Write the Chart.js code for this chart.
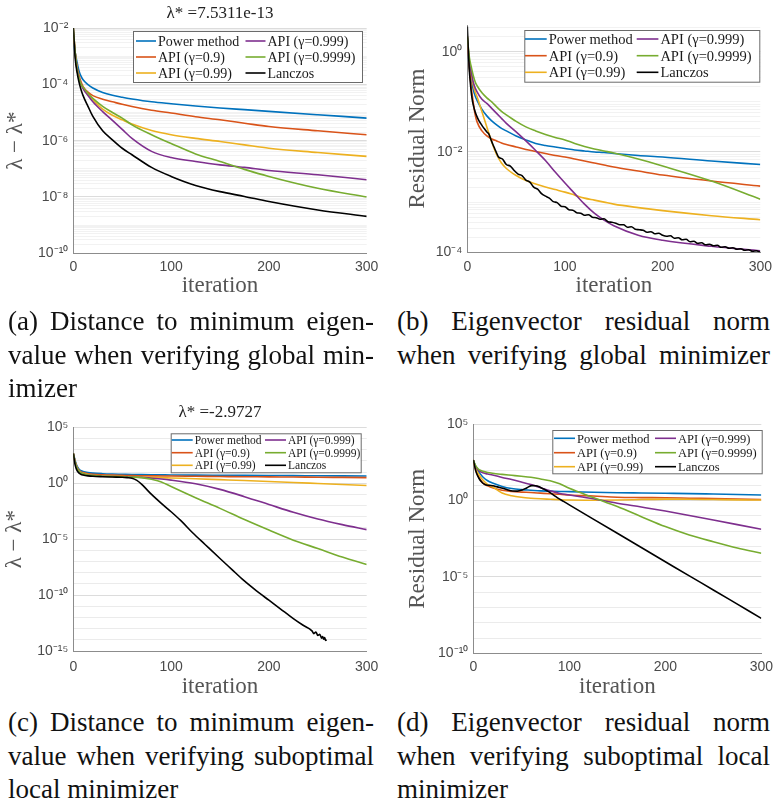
<!DOCTYPE html>
<html>
<head>
<meta charset="utf-8">
<script src="https://cdn.jsdelivr.net/npm/chart.js@4.4.1/dist/chart.umd.min.js"></script>
<style>
  html, body { margin: 0; padding: 0; background: #fff; }
  #page { position: relative; width: 778px; height: 806px; overflow: hidden; background: #fff; }
  .panel { position: absolute; }
  .cap { position: absolute; font-family: "Liberation Serif", "Times New Roman", serif; font-size: 27px; line-height: 33.5px; color: #111; }
  .cap .j { text-align: justify; text-align-last: justify; }
</style>
</head>
<body>
<div id="page">
  <canvas id="chartA" class="panel" width="390" height="300" style="left:0px;top:0px"></canvas>
  <canvas id="chartB" class="panel" width="388" height="300" style="left:390px;top:0px"></canvas>
  <canvas id="chartC" class="panel" width="390" height="310" style="left:0px;top:395px"></canvas>
  <canvas id="chartD" class="panel" width="388" height="310" style="left:390px;top:395px"></canvas>

  <div class="cap" style="left:8px;top:305px;width:366px">
    <div class="j">(a) Distance to minimum eigen-</div>
    <div class="j">value when verifying global min-</div>
    <div>imizer</div>
  </div>
  <div class="cap" style="left:397px;top:305px;width:373px">
    <div class="j">(b) Eigenvector residual norm</div>
    <div class="j">when verifying global minimizer</div>
  </div>
  <div class="cap" style="left:8px;top:706px;width:366px">
    <div class="j">(c) Distance to minimum eigen-</div>
    <div class="j">value when verifying suboptimal</div>
    <div>local minimizer</div>
  </div>
  <div class="cap" style="left:397px;top:706px;width:373px">
    <div class="j">(d) Eigenvector residual norm</div>
    <div class="j">when verifying suboptimal local</div>
    <div>minimizer</div>
  </div>
</div>

<script>

// ============================
// DATA (values are log10 of what is plotted)
// ============================

const seriesLabels = ['Power method', 'API (γ=0.9)', 'API (γ=0.99)', 'API (γ=0.999)', 'API (γ=0.9999)', 'Lanczos'];
const seriesColors = ['#0072BD', '#D95319', '#EDB120', '#7E2F8E', '#77AC30', '#000000'];

// (a) distance to min eigenvalue, global minimizer
const itA = [0, 2, 4, 6, 8, 10, 15, 20, 30, 40, 50, 60, 80, 100, 125, 150, 175, 200, 250, 300];
const aPower    = [-2.53, -2.89, -3.24, -3.54, -3.72, -3.84, -4.01, -4.13, -4.29, -4.39, -4.46, -4.52, -4.62, -4.69, -4.77, -4.84, -4.90, -4.96, -5.08, -5.20];
const aApi9     = [-2.2, -2.9, -3.4, -3.7, -3.92, -4.08, -4.28, -4.40, -4.53, -4.62, -4.71, -4.79, -4.92, -5.02, -5.15, -5.26, -5.38, -5.50, -5.65, -5.79];
const aApi99    = [-2.0, -2.9, -3.5, -3.8, -4.0, -4.13, -4.37, -4.55, -4.88, -5.10, -5.26, -5.41, -5.64, -5.79, -5.92, -6.03, -6.15, -6.27, -6.42, -6.56];
const aApi999   = [-2.0, -2.9, -3.5, -3.8, -4.0, -4.15, -4.40, -4.62, -4.97, -5.28, -5.60, -5.92, -6.38, -6.60, -6.74, -6.86, -6.95, -7.06, -7.21, -7.39];
const aApi9999  = [-2.0, -2.9, -3.5, -3.8, -4.0, -4.10, -4.32, -4.50, -4.78, -5.0, -5.20, -5.44, -5.79, -6.10, -6.47, -6.74, -7.02, -7.27, -7.69, -8.0];
const aLanczos  = [-2.0, -3.1, -3.6, -3.95, -4.2, -4.4, -4.78, -5.14, -5.65, -5.97, -6.27, -6.50, -6.95, -7.27, -7.59, -7.81, -7.98, -8.16, -8.46, -8.69];
const aTickExp = [-10, -8, -6, -4, -2];

// (b) eigenvector residual norm, global minimizer
const itB = [0, 2, 4, 6, 8, 10, 15, 20, 25, 30, 35, 40, 50, 60, 70, 80, 90, 100, 110, 120, 130, 140, 150, 175, 200, 250, 300];
const bPower    = [0.15, -0.3, -0.55, -0.75, -0.88, -0.97, -1.15, -1.28, -1.38, -1.46, -1.53, -1.58, -1.68, -1.76, -1.83, -1.87, -1.9, -1.93, -1.96, -1.98, -2.0, -2.01, -2.03, -2.07, -2.1, -2.18, -2.25];
const bApi9     = [0.2, -0.3, -0.7, -1.0, -1.25, -1.4, -1.58, -1.68, -1.74, -1.78, -1.82, -1.85, -1.9, -1.95, -1.99, -2.03, -2.07, -2.1, -2.14, -2.18, -2.22, -2.26, -2.3, -2.38, -2.46, -2.58, -2.68];
const bApi99    = [0.3, -0.2, -0.45, -0.65, -0.8, -0.9, -1.2, -1.5, -1.8, -2.05, -2.22, -2.33, -2.47, -2.57, -2.64, -2.7, -2.75, -2.8, -2.86, -2.92, -2.96, -3.0, -3.04, -3.11, -3.17, -3.27, -3.35];
const bApi999   = [0.3, -0.2, -0.4, -0.6, -0.72, -0.8, -0.95, -1.03, -1.13, -1.23, -1.33, -1.43, -1.6, -1.78, -1.97, -2.17, -2.4, -2.62, -2.83, -3.04, -3.22, -3.36, -3.47, -3.66, -3.76, -3.88, -3.97];
const bApi9999  = [0.3, -0.1, -0.3, -0.47, -0.6, -0.68, -0.82, -0.92, -1.0, -1.1, -1.19, -1.26, -1.39, -1.5, -1.58, -1.65, -1.71, -1.76, -1.83, -1.89, -1.94, -1.98, -2.02, -2.14, -2.28, -2.58, -2.94];
const itBL = [0, 1, 2, 3, 4, 5, 6, 8, 10, 12, 14, 16, 18, 20, 22, 24, 26, 28, 30,
  32, 36, 40, 44, 48, 52, 56, 60, 64, 68, 72, 76, 80, 84, 88, 92, 96, 100, 104, 108, 112, 116, 120, 124, 128, 132, 136, 140,
  144, 148, 152, 156, 160, 164, 168, 172, 176, 180, 184, 188, 192, 196, 200, 204, 208, 212, 216, 220, 224, 228, 232, 236,
  240, 244, 248, 252, 256, 260, 264, 268, 272, 276, 280, 284, 288, 292, 296, 300];
const bLanczos = [0.5, 0.05, -0.35, -0.6, -0.8, -0.95, -1.05, -1.2, -1.3, -1.38, -1.44, -1.5, -1.55, -1.6, -1.64, -1.74, -1.84, -1.93, -2.02,
  -2.10, -2.14, -2.25, -2.28, -2.37, -2.44, -2.47, -2.56, -2.60, -2.70, -2.74, -2.83, -2.88, -2.92, -2.99, -3.01, -3.08, -3.09, -3.15, -3.16, -3.21, -3.22, -3.26, -3.25, -3.30, -3.31, -3.34, -3.33,
  -3.39, -3.40, -3.42, -3.45, -3.45, -3.50, -3.49, -3.54, -3.55, -3.56, -3.60, -3.59, -3.63, -3.62, -3.66, -3.68, -3.67, -3.72, -3.71, -3.75, -3.74, -3.79, -3.78, -3.82,
  -3.81, -3.85, -3.84, -3.87, -3.86, -3.90, -3.89, -3.92, -3.91, -3.94, -3.93, -3.96, -3.95, -3.98, -3.97, -4.0];
const bTickExp = [-4, -2, 0];

// (c) distance to min eigenvalue, suboptimal local minimizer
const itC = [0, 2, 4, 6, 8, 10, 15, 20, 30, 40, 50, 60, 70, 80, 90, 100, 125, 150, 175, 200, 225, 250, 275, 300];
const cPower    = [2.67, 2.0, 1.5, 1.25, 1.12, 1.05, 0.95, 0.9, 0.85, 0.82, 0.8, 0.78, 0.77, 0.76, 0.75, 0.74, 0.72, 0.71, 0.70, 0.69, 0.68, 0.67, 0.66, 0.65];
const cApi9     = [2.67, 1.9, 1.4, 1.15, 1.0, 0.95, 0.85, 0.8, 0.75, 0.72, 0.7, 0.68, 0.67, 0.66, 0.65, 0.64, 0.62, 0.6, 0.58, 0.57, 0.55, 0.54, 0.52, 0.5];
const cApi99    = [2.67, 1.85, 1.35, 1.1, 0.95, 0.88, 0.78, 0.72, 0.66, 0.62, 0.6, 0.57, 0.55, 0.52, 0.5, 0.47, 0.4, 0.32, 0.24, 0.15, 0.07, -0.02, -0.11, -0.2];
const cApi999   = [2.67, 1.8, 1.3, 1.05, 0.92, 0.85, 0.74, 0.68, 0.62, 0.6, 0.58, 0.56, 0.52, 0.45, 0.38, 0.28, -0.05, -0.55, -1.2, -1.9, -2.6, -3.2, -3.7, -4.15];
const cApi9999  = [2.67, 1.8, 1.3, 1.05, 0.92, 0.85, 0.74, 0.68, 0.63, 0.6, 0.57, 0.55, 0.5, 0.35, 0.12, -0.3, -1.3, -2.25, -3.25, -4.19, -5.09, -5.84, -6.6, -7.27];
const itCL = [0, 2, 4, 6, 8, 10, 15, 20, 30, 40, 50, 55, 60, 65, 70, 75, 80, 90, 100, 110, 122, 135, 150, 162, 174, 187, 200, 212, 225, 235,
  244, 246, 248, 250, 252, 254, 255, 256, 257, 258, 259];
const cLanczos = [2.67, 1.6, 1.1, 0.9, 0.78, 0.73, 0.66, 0.62, 0.58, 0.55, 0.53, 0.5, 0.45, 0.25, -0.1, -0.55, -1.0, -1.8, -2.55, -3.35, -4.43, -5.5, -6.73, -7.7, -8.67, -9.6, -10.46, -11.25, -12.1, -12.7,
  -13.2, -13.45, -13.3, -13.6, -13.5, -13.85, -13.7, -13.95, -13.8, -14.05, -14.0];
const cTickExp = [-15, -10, -5, 0, 5];

// (d) eigenvector residual norm, suboptimal local minimizer
const itD = [0, 2, 4, 6, 8, 10, 15, 20, 30, 40, 50, 60, 70, 80, 90, 100, 125, 150, 175, 200, 225, 250, 275, 300];
const dPower    = [2.66, 2.3, 2.05, 1.85, 1.7, 1.55, 1.3, 1.15, 0.93, 0.79, 0.72, 0.68, 0.64, 0.62, 0.6, 0.59, 0.55, 0.52, 0.5, 0.48, 0.46, 0.43, 0.4, 0.37];
const dApi9     = [2.66, 2.1, 1.75, 1.5, 1.3, 1.15, 0.97, 0.85, 0.68, 0.6, 0.56, 0.53, 0.49, 0.45, 0.42, 0.37, 0.3, 0.22, 0.2, 0.19, 0.16, 0.13, 0.1, 0.07];
const dApi99    = [2.66, 2.2, 1.9, 1.7, 1.5, 1.35, 1.05, 0.9, 0.5, 0.32, 0.22, 0.16, 0.12, 0.09, 0.06, 0.04, 0.03, 0.04, 0.07, 0.1, 0.09, 0.07, 0.05, 0.04];
const dApi999   = [2.66, 2.3, 2.1, 1.95, 1.88, 1.82, 1.74, 1.68, 1.52, 1.38, 1.22, 1.05, 0.85, 0.65, 0.47, 0.37, 0.12, -0.17, -0.42, -0.68, -0.97, -1.27, -1.57, -1.87];
const dApi9999  = [2.66, 2.35, 2.15, 2.03, 1.97, 1.92, 1.84, 1.79, 1.72, 1.66, 1.6, 1.53, 1.42, 1.3, 1.1, 0.81, 0.2, -0.39, -1.05, -1.7, -2.25, -2.69, -3.1, -3.45];
const itDL = [0, 2, 3.4, 6, 8.5, 11, 13.6, 17, 20.5, 25, 30.7, 36, 41, 46, 51, 56, 61, 65, 68, 72, 78.4, 84, 88.6, 94, 100, 125, 150, 175, 200, 225, 250, 275, 300];
const dLanczos = [2.66, 2.1, 1.79, 1.45, 1.24, 1.1, 1.03, 1.0, 0.98, 0.9, 0.81, 0.7, 0.63, 0.62, 0.7, 0.85, 0.98, 0.97, 0.92, 0.8, 0.59, 0.35, 0.15, -0.05, -0.28, -1.21, -2.14, -3.07, -4.0, -4.93, -5.85, -6.78, -7.71];
const dTickExp = [-10, -5, 0, 5];

const xTicks = [0, 100, 200, 300];


// ============================
// HELPERS
// ============================

const SUP = { '-': '⁻', '0': '⁰', '1': '¹', '2': '²', '3': '³', '4': '⁴', '5': '⁵', '6': '⁶', '7': '⁷', '8': '⁸', '9': '⁹' };

function powLabel(e) {
    return '10' + String(e).split('').map(c => SUP[c]).join('');
}

function toPoints(its, logs) {
    return its.map((x, i) => ({ x: x, y: Math.pow(10, logs[i]) }));
}

function decadeExp(v) {
    const l = Math.log10(v);
    const e = Math.round(l);
    return Math.abs(l - e) < 1e-9 ? e : null;
}

// legend drawn as an opaque box inside the plot, two columns x three rows
const boxLegend = {
    id: 'boxLegend',
    afterDatasetsDraw(chart, args, opts) {
        const ctx = chart.ctx;
        ctx.save();
        ctx.fillStyle = '#ffffff';
        ctx.fillRect(opts.x, opts.y, opts.w, opts.h);
        ctx.strokeStyle = '#6b6b6b';
        ctx.lineWidth = 1;
        ctx.strokeRect(opts.x + 0.5, opts.y + 0.5, opts.w, opts.h);
        ctx.font = opts.size + 'px "Liberation Serif", "Times New Roman", serif';
        ctx.textBaseline = 'middle';
        chart.data.datasets.forEach((ds, i) => {
            const lx = opts.cols[i < 3 ? 0 : 1];
            const ly = opts.rows[i % 3];
            ctx.strokeStyle = ds.borderColor;
            ctx.lineWidth = 1.6;
            ctx.beginPath();
            ctx.moveTo(lx, ly);
            ctx.lineTo(lx + opts.len, ly);
            ctx.stroke();
            ctx.fillStyle = '#1a1a1a';
            ctx.fillText(ds.label, lx + opts.len + 2, ly + 1);
        });
        ctx.restore();
    }
};

function makePanel(id, p) {

    const datasets = p.series.map((s, i) => ({
        label: seriesLabels[i],
        data: toPoints(s.it, s.v),
        borderColor: seriesColors[i],
        backgroundColor: seriesColors[i],
        borderWidth: 1.6,
        pointRadius: 0,
        cubicInterpolationMode: 'monotone',
        order: 10 - i
    }));

    const yTickVals = [];
    for (let e = p.yMinExp; e < p.yMaxExp; e++) {
        for (let m = 1; m <= 9; m++) {
            if (p.subTicks || m === 1) yTickVals.push(m * Math.pow(10, e));
        }
    }
    yTickVals.push(Math.pow(10, p.yMaxExp));
    if (p.extraTop) p.extraTop.forEach(v => yTickVals.push(v));

    new Chart(document.getElementById(id).getContext('2d'), {

        type: 'line',

        data: { datasets: datasets },

        plugins: [boxLegend],

        options: {
            responsive: false,
            animation: false,
            events: [],
            layout: { padding: p.pad },

            scales: {

                x: {
                    type: 'linear',
                    min: 0,
                    max: 300,
                    afterBuildTicks: scale => { scale.ticks = xTicks.map(v => ({ value: v })); },
                    afterFit: scale => { scale.height = p.xHeight; },
                    grid: { display: false, drawTicks: false },
                    border: { display: true, color: '#8c8c8c', width: 1 },
                    ticks: {
                        color: '#4a4a4a',
                        padding: p.xTickPad,
                        maxRotation: 0,
                        autoSkip: false,
                        font: { family: '"Liberation Sans", Arial, sans-serif', size: 14 }
                    },
                    title: {
                        display: true,
                        text: 'iteration',
                        color: '#555',
                        padding: { top: 0, bottom: p.xTitlePad },
                        font: { family: '"Liberation Serif", "Times New Roman", serif', size: 23 }
                    }
                },

                y: {
                    type: 'logarithmic',
                    min: p.yMin,
                    max: p.yMax,
                    afterBuildTicks: scale => { scale.ticks = yTickVals.map(v => ({ value: v })); },
                    afterFit: scale => { scale.width = p.yWidth; },
                    grid: {
                        drawTicks: false,
                        color: ctx => {
                            const e = ctx.tick ? decadeExp(ctx.tick.value) : null;
                            if (e !== null && p.tickExp.includes(e)) return '#dcdcdc';
                            return p.subTicks ? '#f2f2f2' : '#ebebeb';
                        },
                        lineWidth: 1
                    },
                    border: { display: true, color: '#8c8c8c', width: 1 },
                    ticks: {
                        color: '#4a4a4a',
                        padding: 5,
                        autoSkip: false,
                        font: { family: '"Liberation Sans", Arial, sans-serif', size: 14 },
                        callback: value => {
                            const e = decadeExp(value);
                            return (e !== null && p.tickExp.includes(e)) ? powLabel(e) : '';
                        }
                    },
                    title: {
                        display: true,
                        text: p.yTitle,
                        color: '#555',
                        padding: { top: p.yTitlePad, bottom: 0 },
                        font: { family: '"Liberation Serif", "Times New Roman", serif', size: 23 }
                    }
                }
            },

            plugins: {
                legend: { display: false },
                tooltip: { enabled: false },
                title: {
                    display: !!p.title,
                    text: p.title || '',
                    color: '#222',
                    fullSize: false,
                    padding: p.titlePad || 0,
                    font: { family: '"Liberation Serif", "Times New Roman", serif', size: 17, weight: 'normal' }
                },
                boxLegend: p.legend
            }
        }
    });
}


// ============================
// PANELS
// ============================

makePanel('chartA', {
    series: [
        { it: itA, v: aPower }, { it: itA, v: aApi9 }, { it: itA, v: aApi99 },
        { it: itA, v: aApi999 }, { it: itA, v: aApi9999 }, { it: itA, v: aLanczos }
    ],
    yMin: 1e-10, yMax: 1e-2, yMinExp: -10, yMaxExp: -2, subTicks: true, tickExp: aTickExp,
    yTitle: 'λ − λ*',
    title: 'λ* =7.5311e-13',
    titlePad: { top: 3, bottom: 4.6 },
    pad: { left: 0, right: 23.3, top: 0, bottom: 0 },
    yWidth: 73.3, xHeight: 46.7, yTitlePad: 2, xTickPad: 5.3, xTitlePad: 0,
    legend: { x: 133, y: 31, w: 229, h: 51, rows: [41, 57, 73], cols: [136, 245.5], len: 20, size: 14 }
});

makePanel('chartB', {
    series: [
        { it: itB, v: bPower }, { it: itB, v: bApi9 }, { it: itB, v: bApi99 },
        { it: itB, v: bApi999 }, { it: itB, v: bApi9999 }, { it: itBL, v: bLanczos }
    ],
    yMin: 1e-4, yMax: 3.4, yMinExp: -4, yMaxExp: 0, subTicks: true, tickExp: bTickExp,
    extraTop: [2, 3],
    yTitle: 'Residual Norm',
    pad: { left: 0, right: 10.7, top: 25, bottom: 0 },
    yWidth: 77.3, xHeight: 47.7, yTitlePad: 14.2, xTickPad: 6, xTitlePad: 0,
    legend: { x: 134.3, y: 30, w: 235, h: 51.7, rows: [39, 55.7, 72.3], cols: [135, 246.7], len: 21.7, size: 14.5 }
});

makePanel('chartC', {
    series: [
        { it: itC, v: cPower }, { it: itC, v: cApi9 }, { it: itC, v: cApi99 },
        { it: itC, v: cApi999 }, { it: itC, v: cApi9999 }, { it: itCL, v: cLanczos }
    ],
    yMin: 1e-15, yMax: 1e5, yMinExp: -15, yMaxExp: 5, subTicks: false, tickExp: cTickExp,
    yTitle: 'λ − λ*',
    title: 'λ* =-2.9727',
    titlePad: { top: 7.8, bottom: 4.1 },
    pad: { left: 0, right: 23.3, top: 0, bottom: 0 },
    yWidth: 73.3, xHeight: 54, yTitlePad: 1.2, xTickPad: 7.3, xTitlePad: 4.2,
    legend: { x: 170.7, y: 38.3, w: 190, h: 39, rows: [45, 57.7, 70.3], cols: [171.7, 265], len: 21, size: 11.5 }
});

makePanel('chartD', {
    series: [
        { it: itD, v: dPower }, { it: itD, v: dApi9 }, { it: itD, v: dApi99 },
        { it: itD, v: dApi999 }, { it: itD, v: dApi9999 }, { it: itDL, v: dLanczos }
    ],
    yMin: 1e-10, yMax: 1e5, yMinExp: -10, yMaxExp: 5, subTicks: false, tickExp: dTickExp,
    yTitle: 'Residual Norm',
    pad: { left: 0, right: 11.3, top: 29.3, bottom: 0 },
    yWidth: 83.3, xHeight: 51.7, yTitlePad: 14.2, xTickPad: 5, xTitlePad: 4.2,
    legend: { x: 162.3, y: 35, w: 209.4, h: 43.3, rows: [43.3, 57.7, 71.7], cols: [164, 265], len: 21, size: 12.5 }
});

</script>
</body>
</html>
